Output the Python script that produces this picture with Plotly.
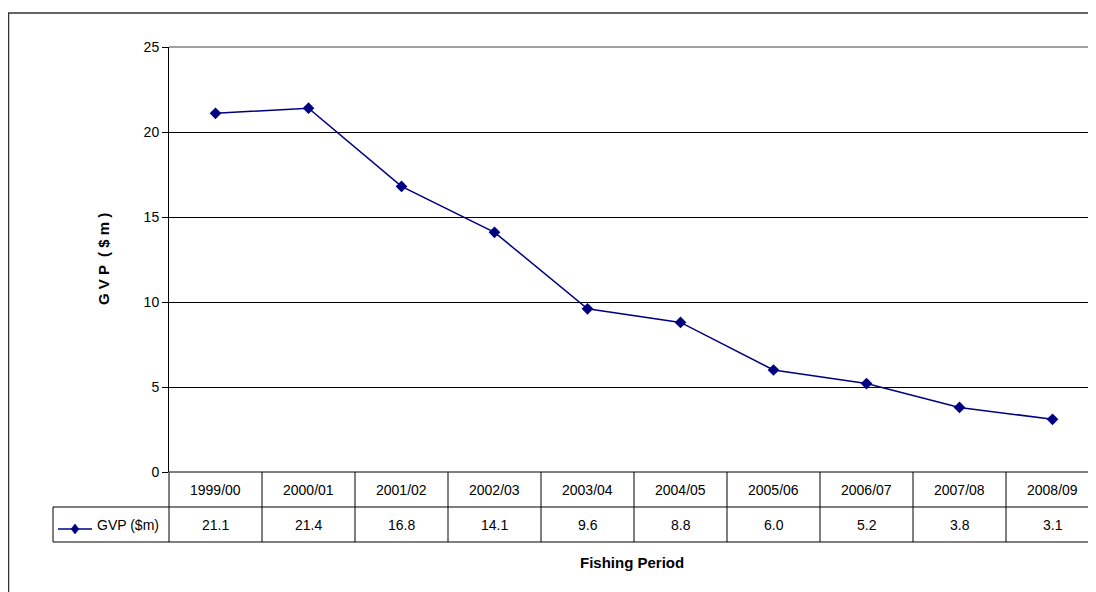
import plotly.graph_objects as go

periods = ["1999/00", "2000/01", "2001/02", "2002/03", "2003/04",
           "2004/05", "2005/06", "2006/07", "2007/08", "2008/09"]
gvp = [21.1, 21.4, 16.8, 14.1, 9.6, 8.8, 6.0, 5.2, 3.8, 3.1]
value_labels = ["21.1", "21.4", "16.8", "14.1", "9.6", "8.8", "6.0", "5.2", "3.8", "3.1"]
series_name = "GVP ($m)"
y_ticks = [0, 5, 10, 15, 20, 25]

# page body has an 8px margin; the figure is shifted by it
OFF = 8
W, H = 1096 - OFF, 592 - OFF
L, T = 169 - OFF, 47 - OFF
R = 0
B = H - (472 - OFF)
PW, PH = W - L - R, H - T - B
COLW = 93.0
XMIN = -0.5
XMAX = XMIN + PW / COLW
NAVY = "#000080"
FONT = "Liberation Sans, Arial, sans-serif"


def px(x):
    return (x - OFF - L) / PW


def py(y):
    return (H - B - (y - OFF)) / PH


def colx(i):
    return (i - XMIN) / (XMAX - XMIN)


fig = go.Figure()
fig.add_trace(go.Scatter(
    x=list(range(len(periods))), y=gvp, mode="lines+markers",
    line=dict(color=NAVY, width=1.5),
    marker=dict(symbol="diamond", size=9, color=NAVY),
    name=series_name, showlegend=False, hoverinfo="skip"))

shapes = []
line_k = dict(color="black", width=1)
# outer frame
shapes.append(dict(type="rect", xref="paper", yref="paper",
                   x0=px(8.5), y0=py(13), x1=px(1300), y1=py(800),
                   line=dict(color="#333333", width=1.5)))
# table horizontal lines
shapes.append(dict(type="line", xref="paper", yref="paper",
                   x0=0, x1=px(1200), y0=py(472), y1=py(472), line=line_k))
shapes.append(dict(type="line", xref="paper", yref="paper",
                   x0=px(53), x1=px(1200), y0=py(507), y1=py(507), line=line_k))
shapes.append(dict(type="line", xref="paper", yref="paper",
                   x0=px(53), x1=px(1200), y0=py(542), y1=py(542), line=line_k))
# table vertical lines
shapes.append(dict(type="line", xref="paper", yref="paper",
                   x0=px(53), x1=px(53), y0=py(507), y1=py(542), line=line_k))
shapes.append(dict(type="line", xref="paper", yref="paper",
                   x0=0, x1=0, y0=py(472), y1=py(542), line=line_k))
for i in range(1, len(periods)):
    xb = colx(i - 0.5)
    shapes.append(dict(type="line", xref="paper", yref="paper",
                       x0=xb, x1=xb, y0=py(472), y1=py(542), line=line_k))
# legend key
shapes.append(dict(type="line", xref="paper", yref="paper",
                   x0=px(58), x1=px(92), y0=py(529), y1=py(529),
                   line=dict(color=NAVY, width=1.5)))
cx, cy, hw, hh = 75, 529, 4, 5
path = "M {} {} L {} {} L {} {} L {} {} Z".format(
    px(cx), py(cy - hh), px(cx + hw), py(cy), px(cx), py(cy + hh), px(cx - hw), py(cy))
shapes.append(dict(type="path", xref="paper", yref="paper", path=path,
                   fillcolor=NAVY, line=dict(color=NAVY, width=0.5)))
# plot-area top border (grey)
shapes.append(dict(type="line", xref="paper", yref="paper", x0=0, x1=px(1200),
                   y0=1, y1=1, line=dict(color="#808080", width=1.5)))

annotations = []
tfont = dict(family=FONT, size=14, color="black")
for i, (p, v) in enumerate(zip(periods, value_labels)):
    annotations.append(dict(x=colx(i), y=py(489.5), xref="paper", yref="paper",
                            text=p, showarrow=False, font=tfont,
                            xanchor="center", yanchor="middle"))
    annotations.append(dict(x=colx(i), y=py(524.5), xref="paper", yref="paper",
                            text=v, showarrow=False, font=tfont,
                            xanchor="center", yanchor="middle"))
annotations.append(dict(x=px(95), y=py(525), xref="paper", yref="paper",
                        text=series_name, showarrow=False, font=tfont,
                        xanchor="left", yanchor="middle"))
annotations.append(dict(x=px(632), y=py(562), xref="paper", yref="paper",
                        text="<b>Fishing Period</b>", showarrow=False,
                        font=dict(family=FONT, size=15, color="black"),
                        xanchor="center", yanchor="middle"))
annotations.append(dict(x=px(104), y=py(259), xref="paper", yref="paper",
                        text="<b>G V P  ( $ m )</b>", showarrow=False, textangle=-90,
                        font=dict(family=FONT, size=15, color="black"),
                        xanchor="center", yanchor="middle"))

fig.update_layout(
    width=W, height=H,
    margin=dict(l=L, r=R, t=T, b=B, pad=0),
    paper_bgcolor="white", plot_bgcolor="white",
    font=dict(family=FONT, size=14, color="black"),
    showlegend=False,
    xaxis=dict(range=[XMIN, XMAX], showticklabels=False, showgrid=False,
               zeroline=False, showline=False, ticks=""),
    yaxis=dict(range=[0, 25], tickvals=y_ticks, showgrid=True,
               gridcolor="black", gridwidth=1, zeroline=False,
               showline=True, linecolor="black", linewidth=1,
               ticks="outside", ticklen=6, tickcolor="black",
               tickfont=dict(family=FONT, size=14, color="black")),
    shapes=shapes, annotations=annotations,
)

fig.write_html("out.html", config={"displayModeBar": False})
